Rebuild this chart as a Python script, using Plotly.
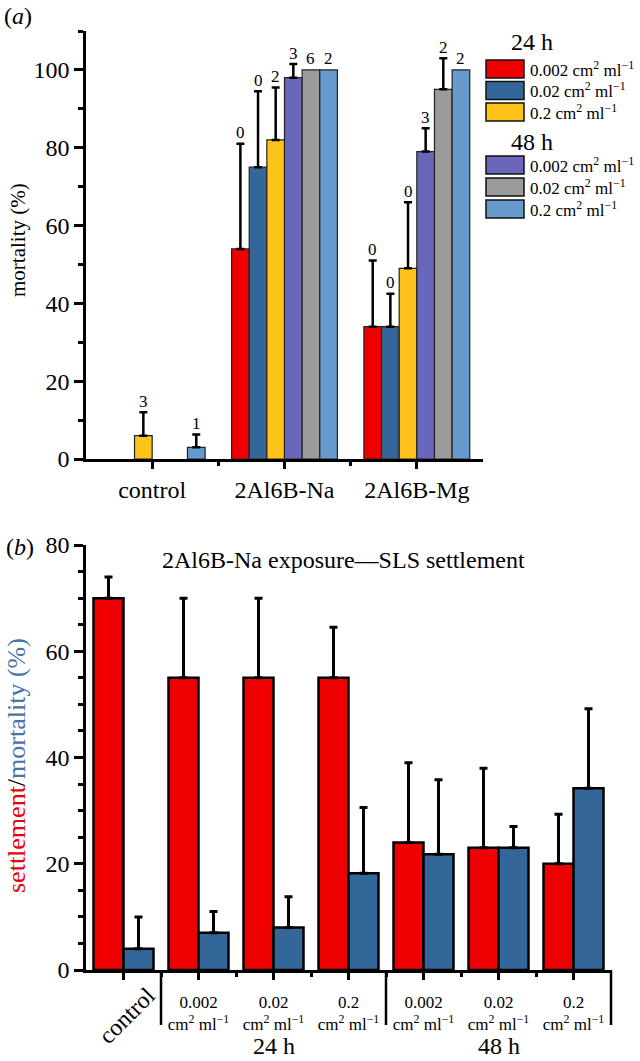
import plotly.graph_objects as go

W, H = 640, 1061
FONT = "Liberation Serif"

# ---------------- Panel (a) data ----------------
groups_a = ["control", "2Al6B-Na", "2Al6B-Mg"]
series_a_names = ["24 h 0.002", "24 h 0.02", "24 h 0.2", "48 h 0.002", "48 h 0.02", "48 h 0.2"]
conc_labels = ["0.002 cm<sup>2</sup> ml<sup>−1</sup>",
               "0.02 cm<sup>2</sup> ml<sup>−1</sup>",
               "0.2 cm<sup>2</sup> ml<sup>−1</sup>"]

mort_24_002 = [0, 54, 34]
mort_24_002_err = [None, 27, 17]
mort_24_002_n = [None, "0", "0"]

mort_24_02 = [0, 75, 34]
mort_24_02_err = [None, 19.5, 8.5]
mort_24_02_n = [None, "0", "0"]

mort_24_2 = [6, 82, 49]
mort_24_2_err = [6, 13.5, 17]
mort_24_2_n = ["3", "2", "0"]

mort_48_002 = [0, 98, 79]
mort_48_002_err = [None, 3.5, 6]
mort_48_002_n = [None, "3", "3"]

mort_48_02 = [0, 100, 95]
mort_48_02_err = [None, None, 8]
mort_48_02_n = [None, "6", "2"]

mort_48_2 = [3, 100, 100]
mort_48_2_err = [3.3, None, None]
mort_48_2_n = ["1", "2", "2"]

colors_a = ["#ee0000", "#336699", "#ffc31a", "#6a66ba", "#9b9b9b", "#6699cc"]

# ---------------- Panel (b) data ----------------
cats_b = ["control", "0.002", "0.02", "0.2", "0.002", "0.02", "0.2"]
settlement = [70, 55, 55, 55, 24, 23, 20]
settlement_err = [4, 15, 15, 9.5, 15, 15, 9.3]
mortality_b = [4, 7, 8, 18.2, 21.8, 23, 34.2]
mortality_b_err = [6, 4, 5.8, 12.4, 14, 4, 15]
time_labels = ["24 h", "48 h"]
time_centers = [2, 5]

# ---------------- layout geometry ----------------
def px_x(p):
    return p / W

def px_y(p):
    return 1 - p / H

xa_dom = [px_x(86), px_x(483)]
ya_dom = [px_y(459), px_y(31)]
xb_dom = [px_x(86), px_x(611)]
yb_dom = [px_y(970), px_y(545)]

BARGAP = 0.2
fig = go.Figure()

series_a = [
    (mort_24_002, mort_24_002_err, mort_24_002_n),
    (mort_24_02, mort_24_02_err, mort_24_02_n),
    (mort_24_2, mort_24_2_err, mort_24_2_n),
    (mort_48_002, mort_48_002_err, mort_48_002_n),
    (mort_48_02, mort_48_02_err, mort_48_02_n),
    (mort_48_2, mort_48_2_err, mort_48_2_n),
]
xa = list(range(len(groups_a)))
annotations = []
nser = len(series_a)
for i, (vals, errs, ns) in enumerate(series_a):
    # "NaN" strings make plotly.js skip the error bar entirely for that bar
    err_plus = [e if e is not None else "NaN" for e in errs]
    err_minus = [0 if e is not None else "NaN" for e in errs]
    fig.add_trace(go.Bar(
        x=xa, y=vals, name=series_a_names[i], xaxis="x", yaxis="y",
        marker=dict(color=colors_a[i],
                    line=dict(color="#222222", width=[1.2 if v else 0 for v in vals])),
        error_y=dict(type="data", symmetric=False, array=err_plus,
                     arrayminus=err_minus,
                     color="black", thickness=2.5, width=4),
        showlegend=False,
    ))
    for g, (v, e, n) in enumerate(zip(vals, errs, ns)):
        if n is None:
            continue
        xpos = g - (1 - BARGAP) / 2 + (i + 0.5) * (1 - BARGAP) / nser
        annotations.append(dict(x=xpos, y=v + (e or 0), xref="x", yref="y",
                                text=n, showarrow=False, xanchor="center",
                                yanchor="middle", yshift=11,
                                font=dict(family=FONT, size=17, color="black")))

xb = list(range(len(cats_b)))
fig.add_trace(go.Bar(
    x=xb, y=settlement, name="settlement", xaxis="x2", yaxis="y2",
    marker=dict(color="#ee0000", line=dict(color="black", width=2.5)),
    error_y=dict(type="data", symmetric=False, array=settlement_err,
                 arrayminus=[0] * len(settlement_err),
                 color="black", thickness=3, width=4),
    showlegend=False,
))
fig.add_trace(go.Bar(
    x=xb, y=mortality_b, name="mortality", xaxis="x2", yaxis="y2",
    marker=dict(color="#336699", line=dict(color="black", width=2.5)),
    error_y=dict(type="data", symmetric=False, array=mortality_b_err,
                 arrayminus=[0] * len(mortality_b_err),
                 color="black", thickness=3, width=4),
    showlegend=False,
))

# ---------------- custom legend for panel (a) ----------------
shapes = []
legend_rows = [69, 90.5, 112, 165, 187, 209]
headers = [("24 h", 42), ("48 h", 141.5)]
for text, yc in headers:
    annotations.append(dict(x=px_x(532), y=px_y(yc), xref="paper", yref="paper",
                            text=text, showarrow=False, xanchor="center", yanchor="middle",
                            font=dict(family=FONT, size=24, color="black")))
for i, yc in enumerate(legend_rows):
    shapes.append(dict(type="rect", xref="paper", yref="paper",
                       x0=px_x(486), x1=px_x(524), y0=px_y(yc + 9), y1=px_y(yc - 9),
                       fillcolor=colors_a[i], line=dict(color="#111111", width=1.5)))
    annotations.append(dict(x=px_x(528), y=px_y(yc), xref="paper", yref="paper",
                            text=conc_labels[i % 3], showarrow=False,
                            xanchor="left", yanchor="middle",
                            font=dict(family=FONT, size=17, color="black")))

# ---------------- panel (b) separators ----------------
def xb_to_paper(v):
    r0, r1 = -0.5, len(cats_b) - 0.5
    return xb_dom[0] + (v - r0) / (r1 - r0) * (xb_dom[1] - xb_dom[0])

for v in [0.5, 3.5, len(cats_b) - 0.5]:
    xp = xb_to_paper(v)
    shapes.append(dict(type="line", xref="paper", yref="paper",
                       x0=xp, x1=xp, y0=yb_dom[0], y1=px_y(1025),
                       line=dict(color="black", width=2.5)))

for t, c in zip(time_labels, time_centers):
    annotations.append(dict(x=c, y=px_y(1046), xref="x2", yref="paper", text=t,
                            showarrow=False, xanchor="center", yanchor="middle",
                            font=dict(family=FONT, size=24, color="black")))

annotations.append(dict(x=0, y=px_y(1016), xref="x2", yref="paper", text=cats_b[0],
                        showarrow=False, xanchor="center", yanchor="middle",
                        textangle=-45, xshift=3,
                        font=dict(family=FONT, size=24, color="black")))

# titles and panel letters
annotations += [
    dict(x=px_x(18), y=px_y(16), xref="paper", yref="paper", text="(<i>a</i>)",
         xanchor="center", yanchor="middle",
         showarrow=False, font=dict(family=FONT, size=24, color="black")),
    dict(x=px_x(20), y=px_y(547), xref="paper", yref="paper", text="(<i>b</i>)",
         xanchor="center", yanchor="middle",
         showarrow=False, font=dict(family=FONT, size=24, color="black")),
    dict(x=px_x(343), y=px_y(560), xref="paper", yref="paper",
         text="2Al6B-Na exposure—SLS settlement",
         xanchor="center", yanchor="middle",
         showarrow=False, font=dict(family=FONT, size=24, color="black")),
    dict(x=px_x(18), y=px_y(240), xref="paper", yref="paper", text="mortality (%)",
         xanchor="center", yanchor="middle",
         textangle=-90, showarrow=False, font=dict(family=FONT, size=21, color="black")),
    dict(x=px_x(16), y=px_y(766), xref="paper", yref="paper",
         text="<span style='color:#e8000b'>settlement</span>/<span style='color:#4573aa'>mortality (%)</span>",
         xanchor="center", yanchor="middle",
         textangle=-90, showarrow=False, font=dict(family=FONT, size=26, color="black")),
]

tick_b = [""] + [f"{c}<br>cm<sup>2</sup> ml<sup>−1</sup>" for c in cats_b[1:]]

axis_common = dict(showline=True, linecolor="black", linewidth=2.5, showgrid=False,
                   zeroline=False, ticks="outside", tickcolor="black", tickwidth=2.5,
                   fixedrange=True, automargin=False)

fig.update_layout(
    width=W, height=H, autosize=False,
    margin=dict(l=0, r=0, t=0, b=0, pad=0, autoexpand=False),
    paper_bgcolor="white", plot_bgcolor="white",
    barmode="group", bargap=BARGAP, bargroupgap=0,
    font=dict(family=FONT, color="black"),
    showlegend=False,
    xaxis=dict(axis_common, domain=xa_dom, anchor="y", range=[-0.5, len(groups_a) - 0.5],
               tickvals=xa, ticktext=groups_a, ticklen=7,
               tickfont=dict(family=FONT, size=24),
               minor=dict(tickvals=[0.5, 1.5], ticklen=4, tickwidth=2.5,
                          tickcolor="black", ticks="outside")),
    yaxis=dict(axis_common, domain=ya_dom, anchor="x", range=[0, 110],
               tickvals=[0, 20, 40, 60, 80, 100], ticklen=9,
               tickfont=dict(family=FONT, size=24),
               minor=dict(dtick=10, tick0=0, ticklen=5, tickwidth=2.5,
                          tickcolor="black", ticks="outside")),
    xaxis2=dict(axis_common, domain=xb_dom, anchor="y2", range=[-0.5, len(cats_b) - 0.5],
                tickvals=xb, ticktext=tick_b, ticklen=7, ticklabelstandoff=8,
                tickfont=dict(family=FONT, size=17),
                minor=dict(tickvals=[k + 0.5 for k in range(len(cats_b) - 1)], ticklen=4,
                           tickwidth=2.5, tickcolor="black", ticks="outside")),
    yaxis2=dict(axis_common, domain=yb_dom, anchor="x2", range=[0, 80],
                tickvals=[0, 20, 40, 60, 80], ticklen=9,
                tickfont=dict(family=FONT, size=24),
                minor=dict(dtick=5, tick0=0, ticklen=5, tickwidth=2.5,
                           tickcolor="black", ticks="outside")),
    shapes=shapes,
    annotations=annotations,
)

fig.write_html("out.html",
               config={"displayModeBar": False, "responsive": False},
               post_script="document.body.style.margin='0';document.body.style.overflow='hidden';")
